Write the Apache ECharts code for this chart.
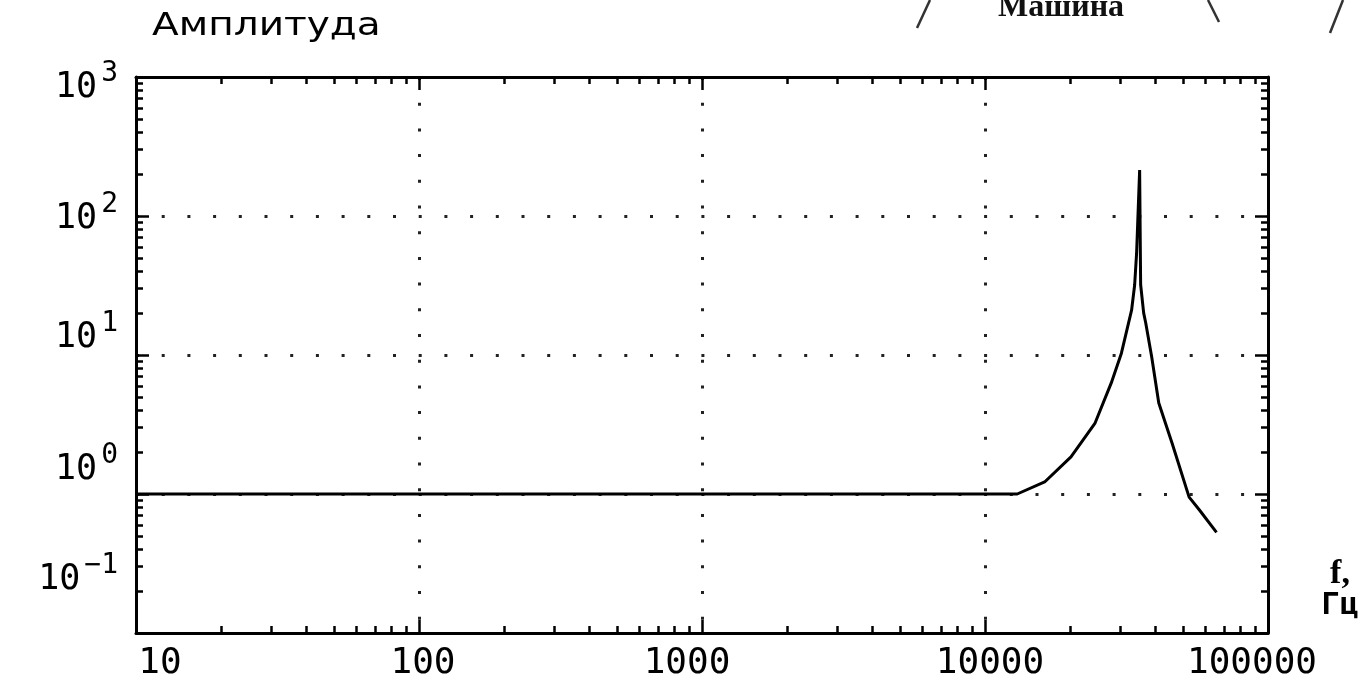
<!DOCTYPE html>
<html>
<head>
<meta charset="utf-8">
<script src="https://cdn.jsdelivr.net/npm/echarts@6/dist/echarts.min.js"></script>
<style>
html, body { margin: 0; padding: 0; background: #fff; }
#main { width: 1367px; height: 685px; }
</style>
</head>
<body>
<div id="main"></div>
<script>
// frequency response
const freqHz = [10, 13000, 16250, 20130, 24490, 27940, 30340, 32960, 33790, 34330, 35190, 35480, 36370, 36980, 38810, 41120, 45800, 52630, 57150, 65770];
const amplitude = [1, 1, 1.22, 1.85, 3.24, 6.3, 10.3, 21, 31.9, 54, 214, 32, 20, 17, 9.7, 4.52, 2.33, 0.95, 0.77, 0.53];

const xDecades = [10, 100, 1000, 10000, 100000];
const yDecades = [0.1, 1, 10, 100, 1000];

const titleText = 'Амплитуда';
const xName = ['f,', 'Гц'];
const topText = 'Машина';

const mono = 'DejaVu Sans Mono';

// label nudges (px), the original plot puts them a bit off the ticks
const yLabelShift = { '3': 11, '2': 3, '1': -17, '0': -24, '-1': -53 };
const xLabelShift = { 10: 24, 100: 4, 1000: -15, 10000: 5, 100000: -16 };

function vPad(dy, left) {
    return dy >= 0 ? [2 * dy, 0, 0, left] : [0, 0, -2 * dy, left];
}
function hPad(dx) {
    return dx >= 0 ? [0, 0, 0, 2 * dx] : [0, -2 * dx, 0, 0];
}
function expKey(e) {
    return e < 0 ? 'm' + (-e) : '' + e;
}

const yRich = {};
Object.keys(yLabelShift).forEach(e => {
    const k = expKey(+e);
    yRich['b' + k] = { fontFamily: mono, fontSize: 35, color: '#000', padding: vPad(yLabelShift[e], 0) };
    yRich['s' + k] = { fontFamily: mono, fontSize: 28, color: '#000', padding: vPad(yLabelShift[e] - 14, 4) };
});
const xRich = {};
Object.keys(xLabelShift).forEach(v => {
    xRich['x' + v] = { fontFamily: mono, fontSize: 36, color: '#000', padding: hPad(xLabelShift[v]) };
});

function minorTicks(decades) {
    const out = [];
    decades.slice(0, -1).forEach(d => {
        for (let k = 2; k <= 9; k++) out.push(d * k);
    });
    return out;
}

const frameLine = { show: true, onZero: false, lineStyle: { color: '#000', width: 3 } };
const tickLine = { color: '#000', width: 2.5 };
const dotted = { show: true, lineStyle: { color: '#222', width: 3, type: [3, 22.7] } };

function makeAxes(kind, decades, label) {
    const pos = kind === 'x' ? ['bottom', 'top'] : ['left', 'right'];
    const base = {
        type: 'log', logBase: 10, gridIndex: 0,
        min: decades[0], max: decades[decades.length - 1]
    };
    const minors = minorTicks(decades);
    return [
        Object.assign({}, base, {
            position: pos[0], axisLine: frameLine,
            axisTick: { show: true, inside: true, length: 13, lineStyle: tickLine },
            splitLine: dotted, axisLabel: label
        }),
        Object.assign({}, base, {
            position: pos[0], axisLine: { show: false, onZero: false },
            axisTick: { show: true, inside: true, length: 7, lineStyle: tickLine, customValues: minors },
            splitLine: { show: false }, axisLabel: { show: false }
        }),
        Object.assign({}, base, {
            position: pos[1], axisLine: frameLine,
            axisTick: { show: true, inside: true, length: 13, lineStyle: tickLine },
            splitLine: { show: false }, axisLabel: { show: false }
        }),
        Object.assign({}, base, {
            position: pos[1], axisLine: { show: false, onZero: false },
            axisTick: { show: true, inside: true, length: 7, lineStyle: tickLine, customValues: minors },
            splitLine: { show: false }, axisLabel: { show: false }
        })
    ];
}

const xAxes = makeAxes('x', xDecades, {
    show: true, margin: 13,
    formatter: v => '{x' + Math.round(v) + '|' + Math.round(v) + '}',
    rich: xRich
});
xAxes[0].name = '{f|' + xName[0] + '}\n{g|' + xName[1] + '}';
xAxes[0].nameLocation = 'end';
xAxes[0].nameGap = 72;
xAxes[0].nameTextStyle = {
    align: 'center', verticalAlign: 'bottom', padding: [0, 0, 12, 0],
    rich: {
        f: { fontFamily: 'Liberation Serif', fontWeight: 'bold', fontSize: 34, color: '#000', lineHeight: 31 },
        g: { fontFamily: mono, fontSize: 31, fontWeight: 'bold', color: '#000', lineHeight: 31 }
    }
};

const yAxes = makeAxes('y', yDecades, {
    show: true, margin: 18,
    formatter: v => {
        const e = Math.round(Math.log10(v));
        const k = expKey(e);
        return '{b' + k + '|10}{s' + k + '|' + (e < 0 ? '\u2212' + (-e) : e) + '}';
    },
    rich: yRich
});

const chart = echarts.init(document.getElementById('main'));
chart.setOption({
    backgroundColor: '#fff',
    animation: false,
    grid: { left: 136, right: 99, top: 77, bottom: 52, containLabel: false, outerBoundsMode: 'none' },
    xAxis: xAxes,
    yAxis: yAxes,
    series: [{
        type: 'line',
        xAxisIndex: 0,
        yAxisIndex: 0,
        data: freqHz.map((f, i) => [f, amplitude[i]]),
        showSymbol: false,
        lineStyle: { color: '#000', width: 3 },
        z: 5
    }],
    graphic: [
        {
            type: 'text', x: 152, y: 11, scaleX: 1.22,
            style: { text: titleText, fontFamily: 'DejaVu Sans', fontSize: 32, fill: '#000', verticalAlign: 'top', textVerticalAlign: 'top' }
        },
        {
            type: 'text', x: 998, y: 24,
            style: { text: topText, fontFamily: 'Liberation Serif', fontWeight: 'bold', fontSize: 32, fill: '#111', verticalAlign: 'bottom', textVerticalAlign: 'bottom' }
        },
        { type: 'line', shape: { x1: 930, y1: 0, x2: 917, y2: 28 }, style: { stroke: '#333', lineWidth: 2.5 } },
        { type: 'line', shape: { x1: 1208, y1: 0, x2: 1219, y2: 22 }, style: { stroke: '#333', lineWidth: 2.5 } },
        { type: 'line', shape: { x1: 1343, y1: 0, x2: 1330, y2: 33 }, style: { stroke: '#333', lineWidth: 2.5 } }
    ]
});
</script>
</body>
</html>
